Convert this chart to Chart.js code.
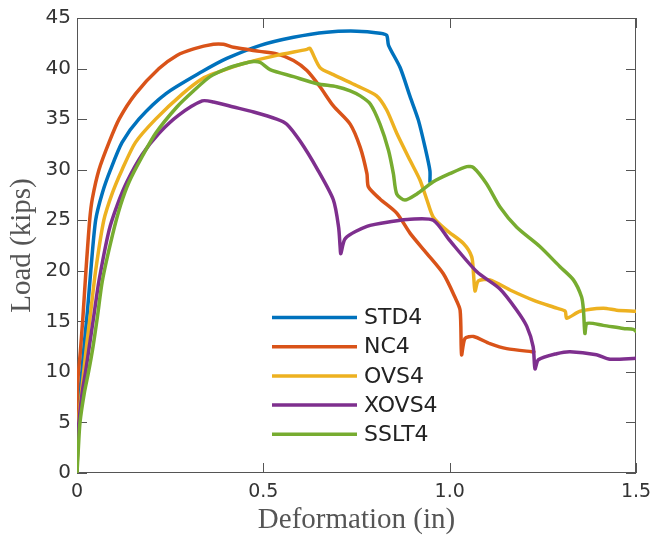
<!DOCTYPE html>
<html>
<head>
<meta charset="utf-8">
<script src="https://cdn.jsdelivr.net/npm/chart.js@4.4.1/dist/chart.umd.min.js"></script>
<style>
  html, body { margin: 0; padding: 0; background: #ffffff; }
  #wrap { width: 664px; height: 540px; }
</style>
</head>
<body>
<div id="wrap"><canvas id="c" width="664" height="540"></canvas></div>
<script>
// ---------------- data ----------------
const seriesNames = ['STD4', 'NC4', 'OVS4', 'XOVS4', 'SSLT4'];
const seriesColors = ['#0072BD', '#D95319', '#EDB120', '#7E2F8E', '#77AC30'];

const xTicks = [0, 0.5, 1, 1.5];
const yTicks = [0, 5, 10, 15, 20, 25, 30, 35, 40, 45];

const std4X = [0, 0.002, 0.006, 0.013, 0.02, 0.028, 0.037, 0.05, 0.068, 0.09, 0.121, 0.166, 0.238, 0.336, 0.402, 0.492, 0.581, 0.67, 0.751, 0.813, 0.831, 0.836, 0.867, 0.894, 0.916, 0.934, 0.947, 0.947];
const std4Y = [0, 4, 7, 10, 13, 16, 20, 25, 27.7, 30, 32.7, 35, 37.5, 39.7, 41.0, 42.3, 43.1, 43.6, 43.7, 43.5, 43.3, 42.3, 40.1, 37.2, 34.9, 32.2, 29.9, 28.8];

const nc4X = [0, 0, 0.003, 0.009, 0.016, 0.024, 0.034, 0.041, 0.059, 0.086, 0.113, 0.157, 0.22, 0.268, 0.313, 0.366, 0.393, 0.42, 0.49, 0.536, 0.581, 0.617, 0.652, 0.688, 0.733, 0.76, 0.778, 0.782, 0.813, 0.858, 0.894, 0.939, 0.983, 1.014, 1.028, 1.032, 1.041, 1.064, 1.108, 1.153, 1.22, 1.226];
const nc4Y = [0, 7, 9.5, 12, 15.5, 20, 25, 27.1, 30, 32.7, 35, 37.5, 40, 41.3, 41.95, 42.4, 42.4, 42.1, 41.7, 41.45, 40.8, 39.8, 38.2, 36.3, 34.5, 32.2, 29.6, 28.3, 27.1, 25.7, 23.7, 21.7, 19.7, 17.4, 16.1, 11.7, 13.3, 13.5, 12.8, 12.3, 12.0, 12.0];

const ovs4X = [0, 0.002, 0.004, 0.012, 0.018, 0.027, 0.037, 0.05, 0.072, 0.095, 0.121, 0.157, 0.211, 0.283, 0.336, 0.375, 0.447, 0.536, 0.617, 0.625, 0.652, 0.688, 0.751, 0.804, 0.831, 0.858, 0.894, 0.92, 0.939, 0.956, 0.992, 1.037, 1.059, 1.064, 1.068, 1.077, 1.108, 1.162, 1.224, 1.287, 1.31, 1.314, 1.35, 1.412, 1.448, 1.5];
const ovs4Y = [0, 3, 5, 8, 10, 13, 16, 20, 25, 27.7, 30, 32.7, 35, 37.5, 39, 39.6, 40.5, 41.3, 41.9, 42.0, 40.1, 39.4, 38.3, 37.3, 35.9, 33.6, 30.9, 29, 27, 25.3, 24.0, 22.7, 21.4, 19.7, 18.0, 19.0, 19.1, 18.1, 17.1, 16.3, 16.0, 15.3, 16.0, 16.3, 16.1, 16.0];

const xovs4X = [0, 0.002, 0.005, 0.014, 0.023, 0.033, 0.045, 0.059, 0.086, 0.108, 0.134, 0.175, 0.22, 0.273, 0.336, 0.366, 0.42, 0.474, 0.536, 0.563, 0.599, 0.644, 0.688, 0.702, 0.706, 0.708, 0.72, 0.778, 0.849, 0.894, 0.956, 1.0, 1.073, 1.135, 1.18, 1.207, 1.224, 1.229, 1.238, 1.287, 1.323, 1.394, 1.43, 1.5];
const xovs4Y = [0, 3, 5, 8, 10, 12.5, 15.5, 19, 24, 26.5, 28.8, 31.5, 33.6, 35.4, 36.8, 36.7, 36.2, 35.7, 35.0, 34.5, 32.8, 30.1, 27, 24.3, 22.4, 21.7, 23.2, 24.4, 24.9, 25.1, 25.0, 23.0, 19.9, 18.2, 16.1, 14.5, 12.5, 10.3, 11.2, 11.8, 12.0, 11.7, 11.25, 11.35];

const sslt4X = [0, 0.003, 0.008, 0.02, 0.031, 0.043, 0.055, 0.068, 0.095, 0.117, 0.14, 0.175, 0.211, 0.268, 0.313, 0.357, 0.402, 0.447, 0.474, 0.492, 0.518, 0.581, 0.644, 0.697, 0.733, 0.76, 0.787, 0.813, 0.836, 0.849, 0.858, 0.88, 0.912, 0.956, 1.0, 1.046, 1.064, 1.099, 1.135, 1.18, 1.242, 1.296, 1.332, 1.354, 1.359, 1.363, 1.369, 1.412, 1.466, 1.493, 1.5];
const sslt4Y = [0, 2, 5, 8, 10, 12.5, 15.5, 19, 23.5, 26.5, 28.8, 31.3, 33.6, 36.2, 37.8, 39.2, 40.0, 40.5, 40.7, 40.6, 39.9, 39.2, 38.5, 38.2, 37.8, 37.3, 36.5, 34.5, 31.9, 29.6, 27.6, 27.0, 27.6, 28.8, 29.6, 30.3, 30.2, 28.6, 26.3, 24.3, 22.4, 20.4, 19.1, 17.4, 16.1, 13.8, 14.8, 14.6, 14.3, 14.2, 14.0];

const seriesX = [std4X, nc4X, ovs4X, xovs4X, sslt4X];
const seriesY = [std4Y, nc4Y, ovs4Y, xovs4Y, sslt4Y];

// ---------------- chart ----------------
const AXIS_COLOR = '#555555';
const TICK_LEN = 10;

const datasets = seriesNames.map((name, i) => ({
  label: name,
  data: seriesX[i].map((x, k) => ({ x: x, y: seriesY[i][k] })),
  borderColor: seriesColors[i],
  backgroundColor: seriesColors[i],
  borderWidth: 3.5,
  pointRadius: 0,
  showLine: true,
  tension: 0.25,
  borderJoinStyle: 'round',
  borderCapStyle: 'round',
  order: seriesNames.length - i
}));

const boxPlugin = {
  id: 'matlabBox',
  beforeDatasetsDraw(chart) {
    const { ctx, chartArea: a, scales } = chart;
    ctx.save();
    ctx.strokeStyle = AXIS_COLOR;
    ctx.lineWidth = 1;
    ctx.strokeRect(a.left + 0.5, a.top + 0.5, a.right - a.left - 1, a.bottom - a.top - 1);
    ctx.beginPath();
    xTicks.forEach(v => {
      const px = Math.round(scales.x.getPixelForValue(v)) + 0.5;
      ctx.moveTo(px, a.bottom); ctx.lineTo(px, a.bottom - TICK_LEN);
      ctx.moveTo(px, a.top); ctx.lineTo(px, a.top + TICK_LEN);
    });
    yTicks.forEach(v => {
      const py = Math.round(scales.y.getPixelForValue(v)) + 0.5;
      ctx.moveTo(a.left, py); ctx.lineTo(a.left + TICK_LEN, py);
      ctx.moveTo(a.right, py); ctx.lineTo(a.right - TICK_LEN, py);
    });
    ctx.stroke();
    ctx.restore();
  }
};

const legendPlugin = {
  id: 'innerLegend',
  afterDatasetsDraw(chart) {
    const { ctx } = chart;
    const x0 = 272, x1 = 357, tx = 364, y0 = 317.5, dy = 29.2;
    ctx.save();
    ctx.font = '22px "DejaVu Sans"';
    ctx.textBaseline = 'middle';
    ctx.textAlign = 'left';
    chart.data.datasets.forEach((ds, i) => {
      const y = y0 + i * dy;
      ctx.strokeStyle = ds.borderColor;
      ctx.lineWidth = 3.5;
      ctx.beginPath();
      ctx.moveTo(x0, y); ctx.lineTo(x1, y);
      ctx.stroke();
      ctx.fillStyle = '#222222';
      ctx.fillText(ds.label, tx, y + 1);
    });
    ctx.restore();
  }
};

new Chart(document.getElementById('c'), {
  type: 'scatter',
  data: { datasets: datasets },
  options: {
    responsive: false,
    animation: false,
    layout: { padding: { left: 0, top: 17, right: 28, bottom: 0 } },
    plugins: { legend: { display: false }, tooltip: { enabled: false } },
    elements: { line: { capBezierPoints: true } },
    scales: {
      x: {
        type: 'linear', min: 0, max: 1.5,
        afterBuildTicks: (s) => { s.ticks = xTicks.map(v => ({ value: v })); },
        afterFit: (s) => { s.height = 67; },
        grid: { display: false, drawTicks: false },
        border: { display: false },
        ticks: { padding: 8, color: '#333333', font: { family: '"DejaVu Sans"', size: 19 }, maxRotation: 0 },
        title: { display: true, text: 'Deformation (in)', color: '#555555',
                 font: { family: '"Liberation Serif"', size: 29 }, padding: { top: 0, bottom: 2 } }
      },
      y: {
        type: 'linear', min: 0, max: 45,
        afterBuildTicks: (s) => { s.ticks = yTicks.map(v => ({ value: v })); },
        afterFit: (s) => { s.width = 77; },
        grid: { display: false, drawTicks: false },
        border: { display: false },
        ticks: { padding: 6, color: '#333333', font: { family: '"DejaVu Sans"', size: 20 } },
        title: { display: true, text: 'Load (kips)', color: '#555555',
                 font: { family: '"Liberation Serif"', size: 29 }, padding: { top: 5, bottom: 0 } }
      }
    }
  },
  plugins: [boxPlugin, legendPlugin]
});
</script>
</body>
</html>
